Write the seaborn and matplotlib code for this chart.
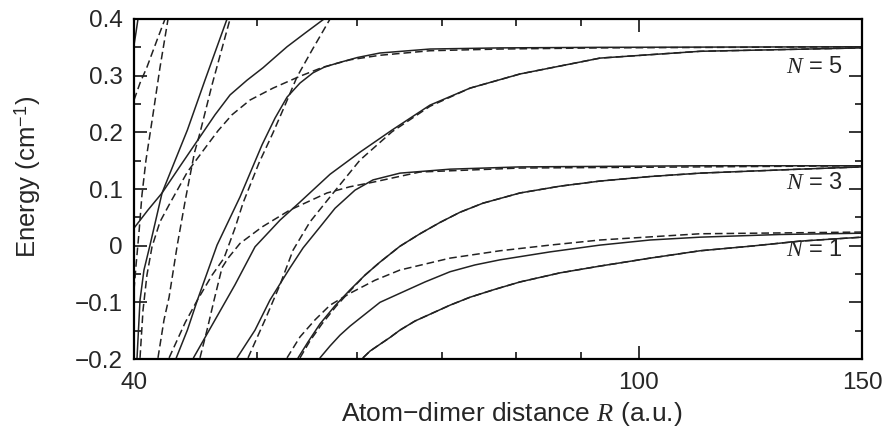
import matplotlib
matplotlib.use("Agg")
import matplotlib.pyplot as plt
import pandas as pd
import seaborn as sns
from matplotlib.ticker import FixedLocator, FixedFormatter, NullFormatter

sns.set_style("ticks")
plt.rcParams['font.family'] = ['Liberation Sans', 'DejaVu Sans']
plt.rcParams['mathtext.fontset'] = 'custom'
plt.rcParams['mathtext.rm'] = 'Liberation Sans'
plt.rcParams['mathtext.it'] = 'Liberation Serif:italic'

# ---------------- data (R in a.u., E in cm^-1) ----------------
# solid curves
s_top_R = [40.0, 40.15, 40.29, 40.36]
s_top_E = [0.354, 0.377, 0.400, 0.412]

s_a_R = [40.0, 41.03, 42.09, 43.51, 45.09, 46.34, 47.62, 49.11, 50.56, 51.70, 52.81, 54.56, 56.48]
s_a_E = [0.031, 0.063, 0.093, 0.141, 0.192, 0.231, 0.266, 0.292, 0.314, 0.333, 0.351, 0.375, 0.400]

s_b_R = [40.22, 40.44, 40.73, 41.18, 42.09, 43.11, 44.07, 45.50, 47.36]
s_b_E = [-0.198, -0.096, -0.043, 0.001, 0.093, 0.151, 0.204, 0.292, 0.400]

s_c_R = [43.19, 44.07, 44.88, 46.51, 48.49, 50.47, 51.67, 52.81, 54.07, 55.36, 56.50, 57.83, 60.00, 62.52, 68.46, 77.74, 93.22, 150.0]
s_c_E = [-0.198, -0.149, -0.096, 0.001, 0.086, 0.178, 0.225, 0.262, 0.287, 0.305, 0.315, 0.322, 0.332, 0.340, 0.347, 0.349, 0.350, 0.351]

s_d_R = [44.56, 46.34, 48.05, 49.83, 52.14, 54.07, 57.10, 60.29, 63.90, 68.46, 73.62, 80.62, 93.22, 111.8, 150.0]
s_d_E = [-0.198, -0.131, -0.069, -0.002, 0.045, 0.077, 0.126, 0.165, 0.204, 0.248, 0.278, 0.303, 0.331, 0.343, 0.349]

s_n3up_R = [48.23, 49.83, 51.20, 53.10, 54.37, 56.07, 57.62, 59.75, 61.73, 64.83, 71.00, 80.62, 111.8, 150.0]
s_n3up_E = [-0.198, -0.149, -0.096, -0.039, -0.004, 0.033, 0.066, 0.098, 0.116, 0.128, 0.135, 0.139, 0.141, 0.141]

s_n3lo_R = [53.88, 54.86, 56.07, 57.62, 59.21, 60.84, 62.52, 64.83, 67.23, 69.72, 72.30, 75.38, 80.62, 86.69, 93.22, 102.08, 111.8, 134.0, 150.0]
s_n3lo_E = [-0.198, -0.170, -0.138, -0.106, -0.078, -0.052, -0.029, -0.001, 0.021, 0.041, 0.059, 0.075, 0.093, 0.105, 0.114, 0.122, 0.128, 0.135, 0.139]

s_n1mid_R = [56.07, 57.10, 58.14, 59.21, 60.29, 62.52, 64.83, 67.85, 71.00, 74.29, 77.74, 85.13, 93.22, 102.08, 111.8, 129.2, 150.0]
s_n1mid_E = [-0.198, -0.177, -0.158, -0.142, -0.128, -0.100, -0.084, -0.064, -0.046, -0.034, -0.025, -0.011, 0.001, 0.010, 0.015, 0.0197, 0.022]

s_n1lo_R = [60.62, 61.40, 62.52, 63.67, 64.83, 66.62, 68.46, 71.00, 73.62, 77.04, 80.62, 86.69, 93.22, 102.08, 111.8, 122.4, 134.0, 150.0]
s_n1lo_E = [-0.198, -0.186, -0.174, -0.162, -0.149, -0.133, -0.121, -0.105, -0.091, -0.077, -0.064, -0.048, -0.036, -0.022, -0.009, -0.001, 0.008, 0.015]

# dashed curves
d_1_R = [40.0, 40.44, 40.95, 41.71, 42.32]
d_1_E = [0.257, 0.287, 0.315, 0.363, 0.400]

d_a_R = [40.0, 40.15, 40.36, 40.58, 40.88, 41.40, 41.93, 42.55]
d_a_E = [-0.078, -0.034, 0.022, 0.089, 0.151, 0.231, 0.314, 0.400]

d_3_R = [41.78, 42.24, 42.63, 43.27, 43.91, 44.64, 45.09, 46.09, 47.62]
d_3_E = [-0.198, -0.131, -0.091, 0.001, 0.081, 0.164, 0.199, 0.284, 0.400]

d_4_R = [40.44, 40.66, 40.95, 41.33, 41.93, 42.63, 44.07, 45.50, 46.60, 47.79, 49.38, 51.48, 54.07, 56.38, 59.21, 62.52, 68.46, 77.74, 93.22, 150.0]
d_4_E = [-0.198, -0.114, -0.052, -0.002, 0.042, 0.072, 0.130, 0.172, 0.203, 0.231, 0.257, 0.278, 0.299, 0.315, 0.328, 0.336, 0.344, 0.347, 0.349, 0.351]

d_5_R = [42.63, 43.91, 44.88, 46.09, 47.10, 48.05, 48.75, 50.19, 51.48, 52.62, 53.78, 55.26, 57.10]
d_5_E = [-0.198, -0.135, -0.096, -0.052, -0.022, 0.031, 0.075, 0.146, 0.199, 0.248, 0.298, 0.345, 0.400]

d_n3_R = [45.09, 45.67, 46.26, 46.93, 47.45, 48.49, 50.47, 53.10, 56.79, 59.21, 61.73, 67.23, 80.62, 111.8, 150.0]
d_n3_E = [-0.198, -0.149, -0.096, -0.039, -0.022, 0.004, 0.033, 0.063, 0.093, 0.104, 0.112, 0.130, 0.137, 0.139, 0.141]

d_n5lo_R = [49.20, 50.74, 52.14, 53.39, 55.06, 57.10, 60.29, 63.90, 68.46, 73.62, 80.62, 93.22, 111.8, 150.0]
d_n5lo_E = [-0.198, -0.131, -0.069, -0.008, 0.042, 0.086, 0.151, 0.201, 0.246, 0.278, 0.303, 0.331, 0.343, 0.349]

d_n3lo_R = [54.07, 55.06, 56.27, 57.73, 59.32, 60.84, 62.52, 64.83, 67.23, 69.72, 72.30, 75.38, 80.62, 86.69, 93.22, 102.08, 111.8, 134.0, 150.0]
d_n3lo_E = [-0.198, -0.168, -0.138, -0.107, -0.078, -0.052, -0.029, -0.001, 0.021, 0.041, 0.059, 0.075, 0.093, 0.105, 0.114, 0.122, 0.128, 0.135, 0.139]

d_n1_R = [52.81, 54.07, 55.56, 57.10, 59.21, 61.96, 64.83, 71.00, 77.74, 85.13, 93.22, 111.8, 150.0]
d_n1_E = [-0.198, -0.161, -0.131, -0.105, -0.084, -0.061, -0.043, -0.022, -0.009, 0.001, 0.010, 0.021, 0.024]

d_n1lo_R = [60.62, 61.40, 62.52, 63.67, 64.83, 66.62, 68.46, 71.00, 73.62, 77.04, 80.62, 86.69, 93.22, 102.08, 111.8, 122.4, 134.0, 150.0]
d_n1lo_E = [-0.198, -0.186, -0.174, -0.162, -0.149, -0.133, -0.121, -0.105, -0.091, -0.077, -0.064, -0.048, -0.036, -0.022, -0.009, -0.001, 0.008, 0.015]

threshold_labels = ["$N$ = 5", "$N$ = 3", "$N$ = 1"]
threshold_label_E = [0.315, 0.110, -0.008]

x_major = [40, 100, 150]
x_minor = [50, 60, 70, 80, 90]

curves = [
    ("s_top", "solid", s_top_R, s_top_E), ("s_a", "solid", s_a_R, s_a_E),
    ("s_b", "solid", s_b_R, s_b_E), ("s_c", "solid", s_c_R, s_c_E),
    ("s_d", "solid", s_d_R, s_d_E), ("s_n3up", "solid", s_n3up_R, s_n3up_E),
    ("s_n3lo", "solid", s_n3lo_R, s_n3lo_E), ("s_n1mid", "solid", s_n1mid_R, s_n1mid_E),
    ("s_n1lo", "solid", s_n1lo_R, s_n1lo_E),
    ("d_1", "dashed", d_1_R, d_1_E), ("d_a", "dashed", d_a_R, d_a_E),
    ("d_3", "dashed", d_3_R, d_3_E), ("d_4", "dashed", d_4_R, d_4_E),
    ("d_5", "dashed", d_5_R, d_5_E), ("d_n3", "dashed", d_n3_R, d_n3_E),
    ("d_n5lo", "dashed", d_n5lo_R, d_n5lo_E), ("d_n3lo", "dashed", d_n3lo_R, d_n3lo_E),
    ("d_n1", "dashed", d_n1_R, d_n1_E), ("d_n1lo", "dashed", d_n1lo_R, d_n1lo_E),
]
rows = []
for name, kind, Rs, Es in curves:
    for r, e in zip(Rs, Es):
        rows.append({"curve": name, "kind": kind, "R": r, "E": e})
df = pd.DataFrame(rows)

# ---------------- figure ----------------
fig = plt.figure(figsize=(8.86, 4.36), dpi=100)
ax = fig.add_axes([134 / 886, 1 - 359 / 436, (862 - 134) / 886, (359 - 19) / 436])
ax.set_xscale('log')

sns.lineplot(data=df, x="R", y="E", units="curve", estimator=None, sort=False,
             style="kind", dashes={"solid": "", "dashed": (5, 2.6)},
             style_order=["solid", "dashed"],
             color="#222222", linewidth=1.1, legend=False, ax=ax)

ax.set_xlim(40, 150)
ax.set_ylim(-0.2, 0.4)
ax.xaxis.set_major_locator(FixedLocator(x_major))
ax.xaxis.set_major_formatter(FixedFormatter([str(v) for v in x_major]))
ax.xaxis.set_minor_locator(FixedLocator(x_minor))
ax.xaxis.set_minor_formatter(NullFormatter())
ax.yaxis.set_major_locator(FixedLocator([-0.2, -0.1, 0, 0.1, 0.2, 0.3, 0.4]))
ax.yaxis.set_major_formatter(FixedFormatter(["\u22120.2", "\u22120.1", "0", "0.1", "0.2", "0.3", "0.4"]))
ax.yaxis.set_minor_locator(FixedLocator([-0.15, -0.05, 0.05, 0.15, 0.25, 0.35]))

ax.tick_params(which='both', direction='in', top=True, right=True, color='black')
ax.tick_params(which='major', length=9.5, width=1.1, labelsize=17.5)
ax.tick_params(which='minor', length=5, width=1.1)
ax.tick_params(axis='x', which='major', pad=9)
ax.tick_params(axis='y', which='major', pad=8)
for sp in ax.spines.values():
    sp.set_linewidth(1.6)
    sp.set_color('black')
    sp.set_visible(True)

ax.set_xlabel("Atom\u2212dimer distance $R$ (a.u.)", fontsize=19)
ax.set_ylabel("Energy (cm$^{\u22121}$)", fontsize=18.5)
ax.xaxis.set_label_coords(0.519, -0.12)
ax.yaxis.set_label_coords(-0.125, 0.535)

for lab, e in zip(threshold_labels, threshold_label_E):
    ax.text(144.9, e, lab, ha='right', va='center', fontsize=17)

fig.savefig("out.png", dpi=100)
